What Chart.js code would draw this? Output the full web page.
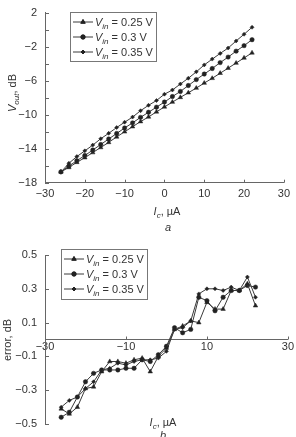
<!DOCTYPE html>
<html><head><meta charset="utf-8">
<script src="https://cdn.jsdelivr.net/npm/chart.js@4/dist/chart.umd.min.js"></script>
<style>
html,body{margin:0;padding:0;background:#fff;}
#wrap{position:relative;width:296px;height:437px;overflow:hidden;background:#fff;}
#c1{position:absolute;left:0;top:0;width:296px;height:236px;}
#c2{position:absolute;left:0;top:236px;width:296px;height:201px;}
</style></head><body>
<div id="wrap"><canvas id="c1" width="296" height="236"></canvas><canvas id="c2" width="296" height="201"></canvas></div>
<script>
// ---- data ----
const currents = [-26,-24,-22,-20,-18,-16,-14,-12,-10,-8,-6,-4,-2,0,2,4,6,8,10,12,14,16,18,20,22];
const seriesNames = ['0.25 V','0.3 V','0.35 V'];
const vout025 = [-16.72,-16.20,-15.60,-15.05,-14.45,-13.85,-13.25,-12.60,-12.00,-11.40,-10.80,-10.25,-9.65,-9.07,-8.50,-7.95,-7.40,-6.85,-6.26,-5.70,-5.10,-4.50,-3.90,-3.30,-2.70];
const vout030 = [-16.72,-16.05,-15.40,-14.80,-14.15,-13.50,-12.85,-12.20,-11.55,-10.95,-10.30,-9.70,-9.10,-8.50,-7.85,-7.25,-6.55,-5.85,-5.20,-4.55,-3.85,-3.20,-2.50,-1.85,-1.15];
const vout035 = [-16.76,-15.71,-14.92,-14.25,-13.57,-12.82,-12.18,-11.50,-10.87,-10.27,-9.52,-8.88,-8.32,-7.57,-7.08,-6.37,-5.69,-4.94,-4.12,-3.44,-2.77,-2.13,-1.30,-0.51,0.31];
const err025 = [-0.41,-0.44,-0.40,-0.29,-0.28,-0.19,-0.13,-0.13,-0.14,-0.12,-0.11,-0.19,-0.10,-0.05,0.06,0.08,0.11,0.10,0.22,0.18,0.18,0.29,0.29,0.33,0.20];
const err030 = [-0.46,-0.43,-0.34,-0.25,-0.20,-0.18,-0.18,-0.18,-0.17,-0.17,-0.12,-0.13,-0.09,-0.04,0.07,0.04,0.06,0.25,0.23,0.17,0.25,0.29,0.29,0.32,0.31];
const err035 = [-0.40,-0.36,-0.34,-0.29,-0.25,-0.18,-0.17,-0.14,-0.15,-0.13,-0.12,-0.12,-0.11,-0.07,0.06,0.07,0.11,0.27,0.30,0.30,0.29,0.31,0.29,0.37,0.25];
const topXTicks = [-30,-20,-10,0,10,20,30];
const topYTicks = [2,0,-2,-4,-6,-8,-10,-12,-14,-16,-18];
const topYLabels = [2,-2,-6,-10,-14,-18];
const botXTicks = [-30,-10,10,30];
const botYTicks = [0.5,0.3,0.1,-0.1,-0.3,-0.5];

// ---- styles ----
const FONT = '"Liberation Sans", Arial, Helvetica, sans-serif';
const INK = '#333';
const AXIS = '#666';
const LINE = '#3a3a3a';
const MARK = '#222';
const styles = [
  {pointStyle:'triangle', radius:2.6},
  {pointStyle:'circle', radius:2.2},
  {pointStyle:'rectRot', radius:2.0}
];

function minus(v){ return String(v).replace('-', '\u2212'); }

function drawRich(ctx, parts, x, y, size, align){
  let w = 0;
  const info = parts.map(p => {
    const sub = p[1] === 'si';
    const it = p[1] === 'i' || sub;
    const f = (it ? 'italic ' : '') + (sub ? Math.round(size*0.75) : size) + 'px ' + FONT;
    ctx.font = f;
    const pw = ctx.measureText(p[0]).width;
    w += pw;
    return {f, pw, sub};
  });
  let cx = align === 'center' ? x - w/2 : x;
  ctx.textAlign = 'left';
  ctx.textBaseline = 'alphabetic';
  parts.forEach((p,i) => {
    ctx.font = info[i].f;
    ctx.fillText(p[0], cx, y + (info[i].sub ? size*0.28 : 0));
    cx += info[i].pw;
  });
}

const decor = {
  id: 'decor',
  afterDraw(chart, args, o) {
    const ctx = chart.ctx;
    const xs = chart.scales.x, ys = chart.scales.y;
    const area = chart.chartArea;
    ctx.save();
    // inward tick marks
    ctx.strokeStyle = AXIS; ctx.lineWidth = 1;
    ctx.beginPath();
    const axisY = o.xAtZero ? ys.getPixelForValue(0) : area.bottom;
    xs.ticks.forEach(t => {
      if (t.value === xs.min) return;
      const px = Math.round(xs.getPixelForValue(t.value)) + 0.5;
      ctx.moveTo(px, axisY); ctx.lineTo(px, axisY - 3);
    });
    ys.ticks.forEach(t => {
      const py = Math.round(ys.getPixelForValue(t.value)) + 0.5;
      ctx.moveTo(area.left, py); ctx.lineTo(area.left + 4, py);
    });
    ctx.stroke();

    // legend
    const L = o.legend;
    ctx.strokeStyle = '#777'; ctx.lineWidth = 1;
    ctx.strokeRect(L.x + 0.5, L.y + 0.5, L.w, L.h);
    chart.data.datasets.forEach((ds, i) => {
      const ry = L.y + 10 + i * 15;
      ctx.strokeStyle = LINE; ctx.lineWidth = 1;
      ctx.beginPath(); ctx.moveTo(L.x + 3, ry); ctx.lineTo(L.x + 23, ry); ctx.stroke();
      ctx.fillStyle = MARK; ctx.strokeStyle = MARK;
      Chart.helpers.drawPoint(ctx, {pointStyle: styles[i].pointStyle, radius: styles[i].radius, rotation: 0, borderWidth: 1}, L.x + 13, ry);
      ctx.fill();
      ctx.fillStyle = INK;
      drawRich(ctx, [['V','i'],['in','si'],[' = ' + seriesNames[i],'']], L.x + 25, ry + 4, 11, 'left');
    });

    // axis titles
    ctx.fillStyle = INK;
    ctx.save();
    ctx.translate(o.yTitle.x, o.yTitle.y);
    ctx.rotate(-Math.PI/2);
    drawRich(ctx, o.yTitle.parts, 0, 4, 11, 'center');
    ctx.restore();
    drawRich(ctx, [['I','i'],['c','si'],[', \u00b5A','']], o.xTitle.x, o.xTitle.y + 4, 11, 'center');
    drawRich(ctx, [[o.caption,'i']], o.cap.x, o.cap.y + 4, 11, 'center');
    ctx.restore();
  }
};

function makeDatasets(arrs){
  return arrs.map((arr, i) => ({
    label: 'Vin = ' + seriesNames[i],
    data: currents.map((c, k) => ({x: c, y: arr[k]})),
    borderColor: LINE,
    borderWidth: 1,
    backgroundColor: MARK,
    pointBackgroundColor: MARK,
    pointBorderColor: MARK,
    pointBorderWidth: 0.5,
    pointStyle: styles[i].pointStyle,
    pointRadius: styles[i].radius,
    tension: 0
  }));
}

const tickFont = {family: FONT, size: 11, lineHeight: 0.9};

new Chart(document.getElementById('c1'), {
  type: 'line',
  data: {datasets: makeDatasets([vout025, vout030, vout035])},
  options: {
    responsive: false, animation: false, devicePixelRatio: 1,
    layout: {autoPadding: false, padding: {top: 5, right: 5, left: 0, bottom: 0}},
    plugins: {
      legend: {display: false}, tooltip: {enabled: false},
      decor: {
        xAtZero: false,
        legend: {x: 70, y: 12, w: 86, h: 49},
        yTitle: {x: 12, y: 93, parts: [['V','i'],['out','si'],[', dB','']]},
        xTitle: {x: 167, y: 211},
        cap: {x: 168, y: 227},
        caption: 'a'
      }
    },
    scales: {
      x: {
        type: 'linear', min: -30, max: 30,
        afterBuildTicks: s => { s.ticks = topXTicks.map(v => ({value: v})); },
        afterFit: s => { s.height = 236 - 182.7; },
        grid: {display: true, drawOnChartArea: false, drawTicks: false},
        border: {display: true, color: AXIS, width: 1},
        ticks: {color: INK, font: tickFont, padding: 6, maxRotation: 0, autoSkip: false, callback: v => minus(v)}
      },
      y: {
        type: 'linear', min: -18, max: 2,
        afterBuildTicks: s => { s.ticks = topYTicks.map(v => ({value: v})); },
        afterFit: s => { s.width = 45; },
        grid: {display: true, drawOnChartArea: false, drawTicks: false},
        border: {display: true, color: AXIS, width: 1},
        ticks: {color: INK, font: tickFont, padding: 8, autoSkip: false, callback: v => topYLabels.includes(v) ? minus(v) : ''}
      }
    }
  },
  plugins: [decor]
});

new Chart(document.getElementById('c2'), {
  type: 'line',
  data: {datasets: makeDatasets([err025, err030, err035])},
  options: {
    responsive: false, animation: false, devicePixelRatio: 1,
    layout: {autoPadding: false, padding: {top: 19, right: 5, left: 0, bottom: 8}},
    plugins: {
      legend: {display: false}, tooltip: {enabled: false},
      decor: {
        xAtZero: true,
        legend: {x: 61, y: 13, w: 86, h: 50},
        yTitle: {x: 7, y: 104, parts: [['error, dB','']]},
        xTitle: {x: 163, y: 186},
        cap: {x: 163, y: 199},
        caption: 'b'
      }
    },
    scales: {
      x: {
        type: 'linear', min: -30, max: 30, position: {y: 0},
        afterBuildTicks: s => { s.ticks = botXTicks.map(v => ({value: v})); },
        grid: {display: true, drawOnChartArea: false, drawTicks: false},
        border: {display: true, color: AXIS, width: 1},
        ticks: {color: INK, font: tickFont, padding: 2, maxRotation: 0, autoSkip: false, callback: v => minus(v)}
      },
      y: {
        type: 'linear', min: -0.5, max: 0.5,
        afterBuildTicks: s => { s.ticks = botYTicks.map(v => ({value: v})); },
        afterFit: s => { s.width = 45; },
        grid: {display: true, drawOnChartArea: false, drawTicks: false},
        border: {display: true, color: AXIS, width: 1},
        ticks: {color: INK, font: tickFont, padding: 8, autoSkip: false, callback: v => minus(v)}
      }
    }
  },
  plugins: [decor]
});
</script>
</body></html>
